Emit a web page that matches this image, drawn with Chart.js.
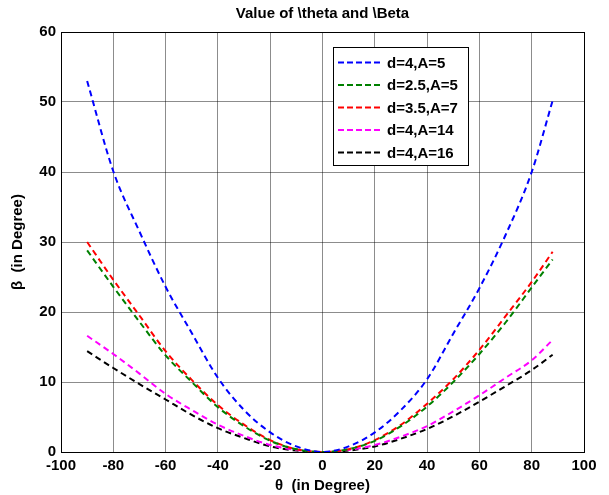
<!DOCTYPE html>
<html>
<head>
<meta charset="utf-8">
<script src="https://cdn.jsdelivr.net/npm/chart.js@4/dist/chart.umd.min.js"></script>
<style>
  body { margin: 0; background: #fff; }
  #wrap { width: 609px; height: 495px; }
</style>
</head>
<body>
<div id="wrap"><canvas id="myChart" width="609" height="495"></canvas></div>
<script>
// theta samples (degrees)
var theta = [-90, -80, -70, -60, -50, -40, -30, -20, -10, 0, 10, 20, 30, 40, 50, 60, 70, 80, 88];

// beta values
var betaD4A5    = [53.0, 40.1, 31.5, 23.6, 17.0, 10.6, 6.0, 2.8, 0.8, 0, 0.8, 2.8, 6.0, 10.4, 16.9, 23.4, 31.0, 40.0, 50.2];
var betaD25A5   = [28.8, 23.6, 18.6, 13.8, 10.0, 6.4, 3.7, 1.6, 0.4, 0, 0.4, 1.6, 3.7, 6.5, 10.0, 14.0, 18.5, 23.5, 27.5];
var betaD35A7   = [30.0, 24.6, 19.5, 14.4, 10.3, 6.7, 3.9, 1.7, 0.4, 0, 0.4, 1.7, 3.9, 6.9, 10.4, 14.6, 19.4, 24.3, 28.6];
var betaD4A14   = [16.6, 14.0, 11.2, 8.3, 6.0, 3.9, 2.3, 1.0, 0.3, 0, 0.3, 1.0, 2.2, 3.7, 5.8, 8.1, 10.6, 13.1, 16.0];
var betaD4A16   = [14.4, 12.0, 9.7, 7.5, 5.3, 3.4, 2.0, 0.8, 0.2, 0, 0.2, 0.8, 1.9, 3.3, 5.1, 7.2, 9.4, 11.7, 13.9];

var seriesLabels = ['d=4,A=5', 'd=2.5,A=5', 'd=3.5,A=7', 'd=4,A=14', 'd=4,A=16'];
var seriesColors = ['#0000ff', '#008000', '#ff0000', '#ff00ff', '#000000'];
var seriesValues = [betaD4A5, betaD25A5, betaD35A7, betaD4A14, betaD4A16];

var FONT = '"Liberation Sans", Arial, sans-serif';

function toPoints(vals) {
    return theta.map(function (t, i) { return { x: t, y: vals[i] }; });
}

var datasets = seriesValues.map(function (vals, i) {
    return {
        label: seriesLabels[i],
        data: toPoints(vals),
        borderColor: seriesColors[i],
        backgroundColor: seriesColors[i],
        borderWidth: 2,
        borderDash: [6, 4],
        pointRadius: 0,
        cubicInterpolationMode: 'monotone',
        fill: false
    };
});

// box, title and inside legend like the matlab figure
var matlabBits = {
    id: 'matlabBits',
    afterDraw: function (chart) {
        var ctx = chart.ctx;
        var a = chart.chartArea;
        ctx.save();
        // axes box
        ctx.strokeStyle = '#000';
        ctx.lineWidth = 1;
        ctx.strokeRect(a.left + 0.5, a.top + 0.5, a.right - a.left, a.bottom - a.top);

        // title
        ctx.fillStyle = '#000';
        ctx.font = 'bold 15px ' + FONT;
        ctx.textAlign = 'center';
        ctx.textBaseline = 'middle';
        ctx.fillText('Value of \\theta and \\Beta', (a.left + a.right) / 2, 14);

        // legend
        var bx = 333, by = 47, bw = 135, bh = 118;
        ctx.fillStyle = '#fff';
        ctx.fillRect(bx, by, bw, bh);
        ctx.strokeStyle = '#000';
        ctx.strokeRect(bx + 0.5, by + 0.5, bw, bh);
        ctx.font = 'bold 15px ' + FONT;
        ctx.textAlign = 'left';
        chart.data.datasets.forEach(function (ds, i) {
            var yy = 62.5 + i * 22.5;
            ctx.strokeStyle = ds.borderColor;
            ctx.lineWidth = 2;
            ctx.setLineDash([6, 3]);
            ctx.beginPath();
            ctx.moveTo(338, yy);
            ctx.lineTo(381, yy);
            ctx.stroke();
            ctx.setLineDash([]);
            ctx.fillStyle = '#000';
            ctx.fillText(ds.label, 387, yy + 1);
        });
        ctx.restore();
    }
};

var ctx = document.getElementById('myChart').getContext('2d');
var chart = new Chart(ctx, {
    type: 'line',
    data: { datasets: datasets },
    plugins: [matlabBits],
    options: {
        responsive: false,
        animation: false,
        layout: { padding: { top: 32, right: 25, left: 0, bottom: 0 } },
        plugins: {
            legend: { display: false },
            title: { display: false },
            tooltip: { enabled: false }
        },
        scales: {
            x: {
                type: 'linear',
                min: -100,
                max: 100,
                afterFit: function (s) { s.height = 43; },
                ticks: {
                    stepSize: 20,
                    color: '#000',
                    padding: 5,
                    maxRotation: 0,
                    font: { family: FONT, size: 15, weight: 'bold' }
                },
                grid: { color: 'rgba(0,0,0,0.45)', drawTicks: false },
                border: { color: '#000' },
                title: {
                    display: true,
                    text: '\u03b8  (in Degree)',
                    color: '#000',
                    padding: { top: 0, bottom: 0 },
                    font: { family: FONT, size: 15, weight: 'bold' }
                }
            },
            y: {
                min: 0,
                max: 60,
                afterFit: function (s) { s.width = 61; },
                ticks: {
                    stepSize: 10,
                    color: '#000',
                    padding: 5,
                    font: { family: FONT, size: 15, weight: 'bold' }
                },
                grid: { color: 'rgba(0,0,0,0.45)', drawTicks: false },
                border: { color: '#000' },
                title: {
                    display: true,
                    text: '\u03b2  (in Degree)',
                    color: '#000',
                    padding: { top: 9, bottom: 0 },
                    font: { family: FONT, size: 15, weight: 'bold' }
                }
            }
        }
    }
});
</script>
</body>
</html>
